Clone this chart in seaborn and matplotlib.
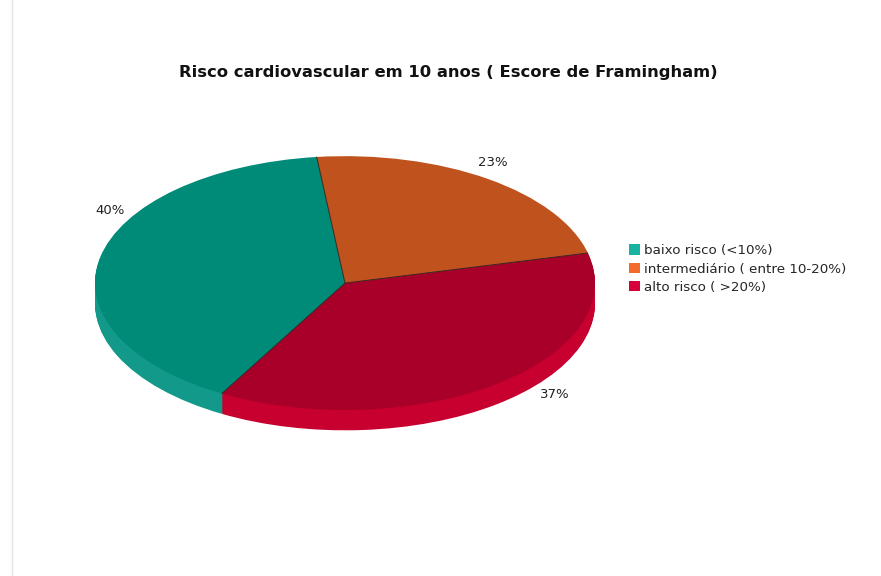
import numpy as np
import matplotlib
matplotlib.use("Agg")
import matplotlib.pyplot as plt
from matplotlib.patches import Patch
from matplotlib.lines import Line2D
import seaborn as sns

# data
categories = ["baixo risco (<10%)", "intermediário ( entre 10-20%)",
              "alto risco ( >20%)"]
shares = [40, 23, 37]
pct_labels = ["40%", "23%", "37%"]

# colours: top face, side (depth), legend swatch
top_colors = ["#008a78", "#c0521e", "#a80028"]
side_colors = ["#13998a", "#d0622a", "#c8002f"]
legend_colors = ["#17b3a0", "#f26b2a", "#d8003a"]

# label anchor points (pie units, like JFreeChart's side labels)
label_pos = [(-0.94, 0.575), (0.59, 0.95), (0.84, -0.88)]

sns.set_theme(style="white")
plt.rcParams["font.family"] = ["DejaVu Sans"]

fig = plt.figure(figsize=(8.81, 5.76), dpi=100)
ax = fig.add_axes([0.0227, 0.178, 0.7378, 0.617])

start = 240.5
depth = 0.16
n_layers = 24

# extruded side: stack of pies shifted downwards
for y0 in np.linspace(-depth, 0, n_layers, endpoint=False):
    ax.pie(shares, colors=side_colors, startangle=start,
           counterclock=False, center=(0, y0), radius=1,
           wedgeprops=dict(linewidth=0))

# top face
wedges, texts = ax.pie(shares, colors=top_colors, startangle=start,
                       counterclock=False, center=(0, 0), radius=1,
                       labels=pct_labels,
                       wedgeprops=dict(linewidth=0),
                       textprops=dict(fontsize=9.5, color="#222222"))

# thin dark separators between slices
for w in wedges:
    th = np.deg2rad(w.theta1)
    ax.plot([0, np.cos(th)], [0, np.sin(th)], color="#3a2a26",
            linewidth=0.7)

for t, (x, y) in zip(texts, label_pos):
    t.set_position((x, y))
    t.set_ha("center")
    t.set_va("center")

ax.set_aspect("auto")
ax.set_xlim(-1.3, 1.3)
ax.set_ylim(-1.5, 1.3)
ax.axis("off")

fig.text(0.509, 0.875,
         "Risco cardiovascular em 10 anos ( Escore de Framingham)",
         ha="center", va="center", fontsize=11.8, fontweight="bold",
         color="#111111")

handles = [Patch(facecolor=c, edgecolor="none") for c in legend_colors]
fig.legend(handles, categories, loc="upper left",
           bbox_to_anchor=(0.703, 0.592), frameon=False,
           fontsize=9.7, handlelength=0.85, handleheight=0.85,
           handletextpad=0.3, labelspacing=0.38, borderpad=0.2)

# faint page border on the left
fig.add_artist(Line2D([0.014, 0.014], [0, 1], color="#e4e4ea",
                      linewidth=1.0))

fig.savefig("out.png", dpi=100)
